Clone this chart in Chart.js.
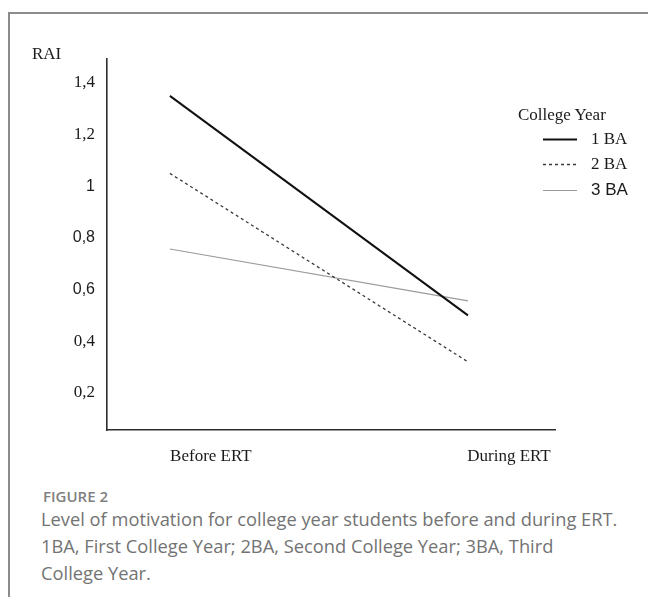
<!DOCTYPE html>
<html>
<head>
<meta charset="utf-8">
<script src="https://cdn.jsdelivr.net/npm/chart.js@4.4.1/dist/chart.umd.min.js"></script>
<style>
  html, body { margin: 0; padding: 0; background: #fff; }
  body { width: 648px; height: 597px; position: relative; overflow: hidden; }
  .frame {
    position: absolute; left: 8px; top: 12px; right: -10px; bottom: -10px;
    border-left: 2px solid #8c8c8c; border-top: 2px solid #8c8c8c;
  }
  #chartBox { position: absolute; left: 0; top: 0; width: 648px; height: 480px; }
  .serif { font-family: "Liberation Serif", "Times New Roman", serif; color: #1a1a1a; }
  .sans  { font-family: "Liberation Sans", Arial, sans-serif; color: #1a1a1a; }
  .rai { position: absolute; left: 32px; top: 44px; font-size: 17px; line-height: 20px; }
  .legend-title { position: absolute; left: 518px; top: 105px; font-size: 17px; line-height: 20px; }
  .legend-row { position: absolute; left: 543px; height: 20px; width: 100px; }
  .legend-row svg { position: absolute; left: 0; top: 9px; }
  .legend-row span { position: absolute; left: 48px; top: 0; font-size: 17px; line-height: 20px; white-space: nowrap; }
  .fig-label {
    position: absolute; left: 43px; top: 486px;
    font: 600 15px "Open Sans", sans-serif; color: #808080; line-height: 20px;
  }
  .caption {
    position: absolute; left: 41px; top: 505px; width: 600px;
    font: 400 18.3px "Open Sans", sans-serif; color: #737373; line-height: 27px;
    white-space: nowrap;
  }
</style>
</head>
<body>
<div class="frame"></div>
<div id="chartBox"><canvas id="raiChart" width="648" height="480"></canvas></div>
<div class="rai serif">RAI</div>
<div class="legend-title serif">College Year</div>
<div id="legendRows"></div>
<div class="fig-label">FIGURE 2</div>
<div class="caption">Level of motivation for college year students before and during ERT.<br>1BA, First College Year; 2BA, Second College Year; 3BA, Third<br>College Year.</div>

<script>
const categories   = ['Before ERT', 'During ERT'];
const seriesNames  = ['1 BA', '2 BA', '3 BA'];
const rai1BA       = [1.35, 0.50];
const rai2BA       = [1.05, 0.32];
const rai3BA       = [0.757, 0.556];
const yTickValues  = [0.2, 0.4, 0.6, 0.8, 1, 1.2, 1.4];
const yTickLabels  = ['0,2', '0,4', '0,6', '0,8', '1', '1,2', '1,4'];
const sansTicks    = [0.6, 0.8, 1];   // these labels are set in a sans face in the figure

const SERIES_STYLE = [
  { color: '#111111', width: 2,   dash: [],     sans: false },
  { color: '#3a3a3a', width: 1.3, dash: [3, 3], sans: false },
  { color: '#9a9a9a', width: 1.2, dash: [],     sans: true  },
];

const SERIF = '"Liberation Serif", "Times New Roman", serif';
const SANS  = '"Liberation Sans", Arial, sans-serif';

const seriesData = [rai1BA, rai2BA, rai3BA];

const datasets = seriesData.map((vals, i) => ({
  label:       seriesNames[i],
  data:        vals.map((v, j) => ({ x: j, y: v })),
  borderColor: SERIES_STYLE[i].color,
  borderWidth: SERIES_STYLE[i].width,
  borderDash:  SERIES_STYLE[i].dash,
  pointRadius: 0,
  fill:        false,
  tension:     0,
}));

// legend, built from the same series
document.getElementById('legendRows').innerHTML = seriesNames.map((name, i) => {
  const s   = SERIES_STYLE[i];
  const top = [129, 154, 180][i];
  return `
    <div class="legend-row" style="top:${top}px">
      <svg width="34" height="3"><line x1="0" y1="1.5" x2="34" y2="1.5"
        stroke="${s.color}" stroke-width="${s.width}" stroke-dasharray="${s.dash.join(' ')}"/></svg>
      <span class="${s.sans ? 'sans' : 'serif'}">${name}</span>
    </div>`;
}).join('');

new Chart(document.getElementById('raiChart'), {
  type: 'line',
  data: { datasets },
  options: {
    responsive: false,
    animation:  false,
    layout: { padding: { left: 67, right: 93, top: 59, bottom: 0 } },
    plugins: {
      legend:  { display: false },
      tooltip: { enabled: false },
    },
    scales: {
      x: {
        type: 'linear',
        min: -0.211,
        max: 1.292,
        grid:   { display: false, drawTicks: false },
        border: { display: true, color: '#2e2e2e', width: 1.6 },
        afterBuildTicks: (s) => { s.ticks = categories.map((_, i) => ({ value: i })); },
        afterFit: (s) => { s.height = 50; },
        ticks: {
          padding:     16,
          labelOffset: 41,
          maxRotation: 0,
          color:       '#1a1a1a',
          font:        { family: SERIF, size: 17 },
          callback:    (v) => categories[v] ?? '',
        },
      },
      y: {
        type: 'linear',
        min: 0.056,
        max: 1.493,
        grid:   { display: false, drawTicks: false },
        border: { display: true, color: '#2e2e2e', width: 1.6 },
        afterBuildTicks: (s) => { s.ticks = yTickValues.map(v => ({ value: v })); },
        afterFit: (s) => { s.width = 40; },
        ticks: {
          padding: 12,
          color:   '#1a1a1a',
          font: (ctx) => {
            const v = ctx.tick ? ctx.tick.value : 0;
            return sansTicks.includes(v) ? { family: SANS, size: 16 } : { family: SERIF, size: 17 };
          },
          callback: (v) => yTickLabels[yTickValues.indexOf(v)] ?? '',
        },
      },
    },
  },
});
</script>
</body>
</html>
